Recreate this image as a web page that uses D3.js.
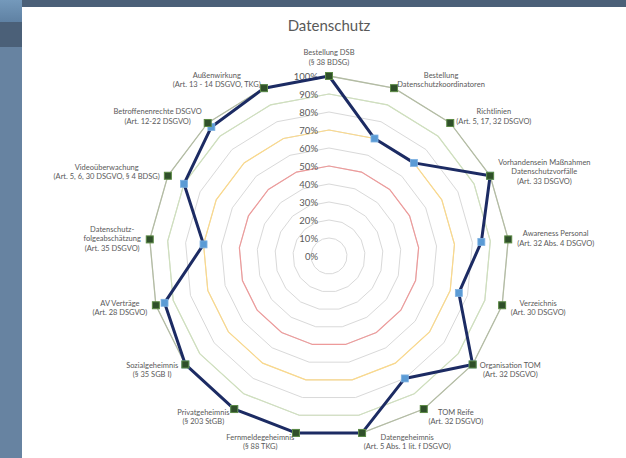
<!DOCTYPE html>
<html>
<head>
<meta charset="utf-8">
<script src="https://cdn.jsdelivr.net/npm/d3@7"></script>
<style>
  body { margin: 0; background: #fff; }
  svg { display: block; font-family: Lato, 'Open Sans', sans-serif; }
</style>
</head>
<body>
<div id="chart"></div>
<script>
const categories = [
  'Bestellung DSB\n(§ 38 BDSG)',
  'Bestellung\nDatenschutzkoordinatoren',
  'Richtlinien\n(Art. 5, 17, 32 DSGVO)',
  'Vorhandensein Maßnahmen\nDatenschutzvorfälle\n(Art. 33 DSGVO)',
  'Awareness Personal\n(Art. 32 Abs. 4 DSGVO)',
  'Verzeichnis\n(Art. 30 DSGVO)',
  'Organisation TOM\n(Art. 32 DSGVO)',
  'TOM Reife\n(Art. 32 DSGVO)',
  'Datengeheimnis\n(Art. 5 Abs. 1 lit. f DSGVO)',
  'Fernmeldegeheimnis\n(§ 88 TKG)',
  'Privatgeheimnis\n(§ 203 StGB)',
  'Sozialgeheimnis\n(§ 35 SGB I)',
  'AV Verträge\n(Art. 28 DSGVO)',
  'Datenschutz-\nfolgeabschätzung\n(Art. 35 DSGVO)',
  'Videoüberwachung\n(Art. 5, 6, 30 DSGVO, § 4 BDSG)',
  'Betroffenenrechte DSGVO\n(Art. 12-22 DSGVO)',
  'Außenwirkung\n(Art. 13 - 14 DSGVO, TKG)'
]
const istWerte = [100, 70, 70, 100, 85, 75, 100, 80, 100, 100, 100, 100, 95, 70, 90, 97, 100]
const sollWerte = [100, 100, 100, 100, 100, 100, 100, 100, 100, 100, 100, 100, 100, 100, 100, 100, 100]
const tickWerte = [0, 10, 20, 30, 40, 50, 60, 70, 80, 90, 100]
const schwellen = [50, 70, 90]

const Width = 626
const Height = 458
const cx = 329
const cy = 256
const R = 180

const svg = d3.select('#chart').append('svg')
  .attr('width', Width)
  .attr('height', Height)

// page frame: sidebar + top bar
svg.append('rect').attr('x', 0).attr('y', 0).attr('width', Width).attr('height', Height).attr('fill', '#fff')
const grad = svg.append('defs').append('linearGradient').attr('id', 'sb').attr('x1', 0).attr('y1', 0).attr('x2', 0).attr('y2', 1)
grad.append('stop').attr('offset', 0).attr('stop-color', '#7499bb')
grad.append('stop').attr('offset', 1).attr('stop-color', '#5f81a3')
svg.append('rect').attr('x', 0).attr('y', 0).attr('width', 22).attr('height', Height).attr('fill', '#6783a1')
svg.append('rect').attr('x', 0).attr('y', 0).attr('width', 22).attr('height', 22).attr('fill', 'url(#sb)')
svg.append('rect').attr('x', 0).attr('y', 22).attr('width', 22).attr('height', 25).attr('fill', '#4b6078')
svg.append('rect').attr('x', 22).attr('y', 0).attr('width', Width - 22).attr('height', 7).attr('fill', '#4b6078')

svg.append('text')
  .attr('x', cx).attr('y', 31)
  .attr('text-anchor', 'middle')
  .attr('font-size', 15)
  .attr('fill', '#595959')
  .text('Datenschutz')

const n = categories.length
const angle = d3.scaleLinear().domain([0, n]).range([0, 2 * Math.PI])
const r = d3.scaleLinear().domain([0, 100]).range([0, R])

const g = svg.append('g').attr('transform', `translate(${cx},${cy})`)

const ring = v => d3.lineRadial()
  .angle((d, i) => angle(i))
  .radius(() => r(v))
  .curve(d3.curveLinearClosed)(categories)

// grid rings
g.selectAll('.grid')
  .data(tickWerte.filter(t => t > 0))
  .enter().append('path')
  .attr('d', d => ring(d))
  .attr('fill', 'none')
  .attr('stroke', '#d9d9d9')
  .attr('stroke-width', 1)

// threshold rings
const schwellenFarbe = d3.scaleOrdinal().domain(schwellen).range(['#ee9a9a', '#fbd98a', '#cfe0bd'])
g.selectAll('.schwelle')
  .data(schwellen)
  .enter().append('path')
  .attr('d', d => ring(d))
  .attr('fill', 'none')
  .attr('stroke', d => schwellenFarbe(d))
  .attr('stroke-width', 1.2)

// radial axis labels
const yScale = d3.scaleLinear().domain([0, 100]).range([0, -R])
const axis = g.append('g')
  .attr('transform', 'translate(-11,0)')
  .call(d3.axisLeft(yScale).tickValues(tickWerte).tickSize(0).tickPadding(0).tickFormat(d => d + '%'))
axis.select('.domain').remove()
axis.selectAll('text')
  .attr('font-family', 'Lato, sans-serif')
  .attr('font-size', 9.5)
  .attr('fill', '#595959')

const line = vals => d3.lineRadial()
  .angle((d, i) => angle(i))
  .radius(d => r(d))
  .curve(d3.curveLinearClosed)(vals)

// target series (100%)
g.append('path')
  .attr('d', line(sollWerte))
  .attr('fill', 'none')
  .attr('stroke', '#b3bca3')
  .attr('stroke-width', 1.3)

// actual series
g.append('path')
  .attr('d', line(istWerte))
  .attr('fill', 'none')
  .attr('stroke', '#1c2b63')
  .attr('stroke-width', 3)
  .attr('stroke-linejoin', 'round')

const ms = 7
g.selectAll('.ist')
  .data(istWerte)
  .enter().append('rect')
  .attr('x', (d, i) => d3.pointRadial(angle(i), r(d))[0] - ms / 2)
  .attr('y', (d, i) => d3.pointRadial(angle(i), r(d))[1] - ms / 2)
  .attr('width', ms).attr('height', ms)
  .attr('fill', '#5b9bd5')
  .attr('stroke', '#7fb2e2')
  .attr('stroke-width', 0.8)

g.selectAll('.soll')
  .data(sollWerte)
  .enter().append('rect')
  .attr('x', (d, i) => d3.pointRadial(angle(i), r(d))[0] - ms / 2)
  .attr('y', (d, i) => d3.pointRadial(angle(i), r(d))[1] - ms / 2)
  .attr('width', ms).attr('height', ms)
  .attr('fill', '#2f4f2a')
  .attr('stroke', '#5c8a45')
  .attr('stroke-width', 1)

// category labels
const fs = 7.5
const lh = 9.5
categories.forEach((c, i) => {
  const a = angle(i)
  const s = Math.sin(a)
  const co = Math.cos(a)
  const [px, py] = d3.pointRadial(a, R + 9)
  const lines = c.split('\n')
  const t = g.append('text')
    .attr('font-size', fs)
    .attr('fill', '#595959')
    .attr('text-anchor', 'middle')
  const spans = lines.map(l => t.append('tspan').text(l))
  const w = d3.max(spans, sp => sp.node().getComputedTextLength())
  const h = lines.length * lh
  let boxCx, boxCy
  if (Math.abs(s) < 0.05) {
    boxCx = px
    boxCy = py - co * h / 2
  } else {
    boxCx = s > 0 ? px + w / 2 : px - w / 2
    boxCy = py
  }
  spans.forEach((sp, j) => {
    sp.attr('x', boxCx)
      .attr('y', boxCy - h / 2 + lh * j + lh * 0.78)
  })
})
</script>
</body>
</html>
